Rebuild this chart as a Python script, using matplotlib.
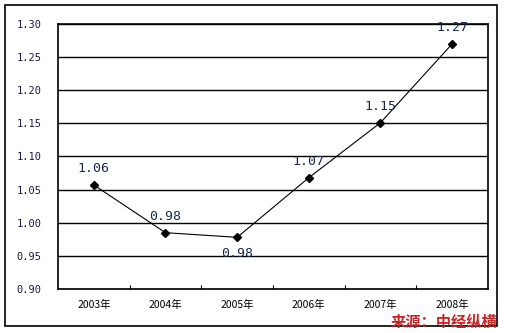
import matplotlib.pyplot as plt
from matplotlib.patches import Rectangle

plt.rcParams['font.family'] = ['Noto Sans CJK SC', 'DejaVu Sans']

# Data
years = ['2003年', '2004年', '2005年', '2006年', '2007年', '2008年']
values = [1.057, 0.985, 0.978, 1.068, 1.151, 1.27]
labels = ['1.06', '0.98', '0.98', '1.07', '1.15', '1.27']
label_pos = ['above', 'above', 'below', 'above', 'above', 'above']
yticks = [0.90, 0.95, 1.00, 1.05, 1.10, 1.15, 1.20, 1.25, 1.30]

W, H = 506, 333
fig = plt.figure(figsize=(W / 100, H / 100), dpi=100)
fig.patch.set_facecolor('white')

# outer frame
fig.add_artist(Rectangle((5 / W, 1 - 326 / H), 492 / W, 321 / H,
                         transform=fig.transFigure, fill=False,
                         edgecolor='black', lw=1.2))

ax = fig.add_axes([58 / W, 1 - 289 / H, 430 / W, 265 / H])
x = list(range(len(years)))
ax.plot(x, values, color='black', lw=0.8, marker='D', ms=4, zorder=3)

ax.set_xlim(-0.5, len(years) - 0.5)
ax.set_ylim(0.90, 1.30)
ax.set_yticks(yticks)
ax.set_yticklabels(['%.2f' % v for v in yticks], family='DejaVu Sans Mono',
                   fontsize=7.5, color='#1a1a4a')
ax.yaxis.grid(True, color='black', lw=1)
ax.tick_params(axis='y', length=0, pad=12)

ax.set_xticks([i + 0.5 for i in x[:-1]])
ax.set_xticklabels([])
ax.set_xticks(x, minor=True)
ax.set_xticklabels(years, minor=True, fontsize=7.5)
ax.tick_params(axis='x', which='major', direction='in', length=3, color='black')
ax.tick_params(axis='x', which='minor', length=0, pad=8)

for s in ax.spines.values():
    s.set_linewidth(1.2)
    s.set_color('black')

for i, (v, t, p) in enumerate(zip(values, labels, label_pos)):
    dy = 7 if p == 'above' else -7
    ax.annotate(t, (i, v), xytext=(0, dy), textcoords='offset points',
                ha='center', va='bottom' if p == 'above' else 'top',
                family='DejaVu Sans Mono', fontsize=9.5, color='#1a2a4a')

fig.text(497 / W, 1 - 322 / H, '来源：中经纵横', ha='right', va='center',
         fontsize=11, color='#c0282a', fontweight='bold', style='italic')

fig.savefig('out.png', dpi=100)
